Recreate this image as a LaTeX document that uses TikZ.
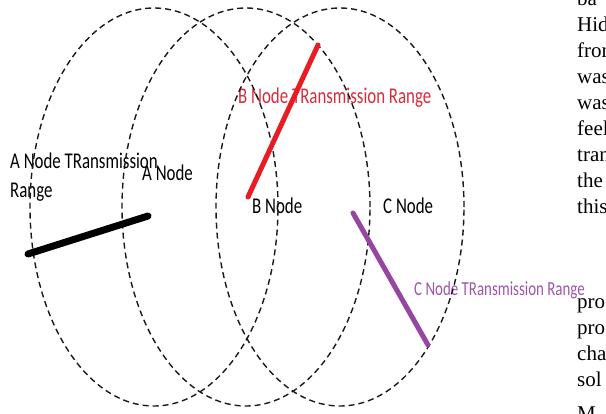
\documentclass[tikz,border=0pt]{standalone}
\usepackage{fontspec}
\setmainfont{Liberation Serif}
\newfontfamily\calib{Carlito}
\definecolor{rlab}{RGB}{214,45,60}
\definecolor{rline}{RGB}{232,28,36}
\definecolor{plab}{RGB}{160,85,170}
\definecolor{pline}{RGB}{150,70,160}
\newcommand{\lbl}[2][22.5]{\scalebox{0.75}[1]{\calib\fontsize{#1}{26}\selectfont #2}}
\begin{document}
\begin{tikzpicture}[x=1pt,y=-1pt,
  rangeline/.style={draw=black!90, line width=1.4pt, dash pattern=on 6pt off 4pt},
  lab/.style={anchor=base west, inner sep=0pt},
  txt/.style={anchor=base west, inner sep=0pt, font=\fontsize{21}{25}\selectfont},
  radline/.style={line width=5pt, line cap=round}]
\clip (0,0) rectangle (606,413);
\fill[white] (0,0) rectangle (606,413);
% labels
\node[lab] (atr) at (10,168) {\lbl{\begin{tabular}[t]{@{}l@{}}A Node TRansmission\\[3pt]Range\end{tabular}}};
\node[lab] (an) at (142,180) {\lbl{A Node}};
\node[lab, text=rlab] (btr) at (238,103) {\lbl{B Node TRansmission Range}};
\node[lab] (bn) at (252,213) {\lbl{B Node}};
\node[lab] (cn) at (383,213) {\lbl{C Node}};
\node[lab, text=plab] (ctr) at (414,295) {\lbl[19.9]{C Node TRansmission Range}};
% ranges
\draw[rangeline] (154,207) ellipse [x radius=124pt, y radius=199pt];
\draw[rangeline] (246,207) ellipse [x radius=124pt, y radius=199pt];
\draw[rangeline] (340,207) ellipse [x radius=124pt, y radius=199pt];
% radius lines
\coordinate (a0) at (148,216); \coordinate (a1) at (28,254);
\coordinate (b0) at (248,197); \coordinate (b1) at (318,45);
\coordinate (c0) at (353,213); \coordinate (c1) at (428,345);
\draw[radline, line width=7pt, black] (a0) -- (a1);
\draw[radline, rline] (b0) -- (b1);
\draw[radline, pline] (c0) -- (c1);
% page text fragments
\node[txt] (t1) at (577,5) {ba};
\node[txt] (t2) at (577,31) {Hid};
\node[txt] (t3) at (577,57) {from};
\node[txt] (t4) at (577,83) {was};
\node[txt] (t5) at (577,109) {was};
\node[txt] (t6) at (577,135) {feel};
\node[txt] (t7) at (577,161) {tran};
\node[txt] (t8) at (577,187) {the};
\node[txt] (t9) at (577,213) {this};
\node[txt] (t10) at (577,308) {pro};
\node[txt] (t11) at (577,334) {pro};
\node[txt] (t12) at (577,360) {cha};
\node[txt] (t13) at (577,386) {sol};
\node[txt] (t14) at (577,420) {M};
\end{tikzpicture}
\end{document}
